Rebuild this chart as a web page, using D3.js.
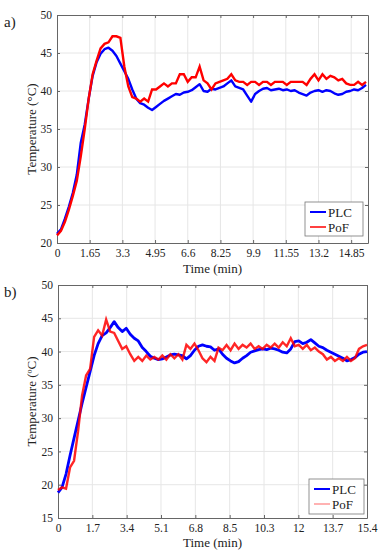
<!DOCTYPE html>
<html>
<head>
<meta charset="utf-8">
<script src="https://cdn.jsdelivr.net/npm/d3@7"></script>
<style>
  body { margin: 0; background: #fff; }
  svg, svg text, .ax { font-family: "Liberation Serif", "Times New Roman", serif; }
  .grid line { stroke: #e6e6e6; stroke-width: 1; }
  .ax path, .ax line { stroke: #666; }
  .ax text { fill: #222; font-size: 11.5px; }
</style>
</head>
<body>
<svg id="fig" width="382" height="550"></svg>
<script>
// ---- chart a) ----
var timeA = [0,0.2,0.4,0.6,0.8,1,1.2,1.4,1.6,1.8,2,2.2,2.4,2.6,2.8,3,3.2,3.4,3.6,3.8,
  4,4.2,4.4,4.6,4.8,5,5.2,5.4,5.6,5.8,6,6.2,6.4,6.6,6.8,7,7.2,7.4,7.6,7.8,
  8,8.2,8.4,8.6,8.8,9,9.2,9.4,9.6,9.8,10,10.2,10.4,10.6,10.8,11,11.2,11.4,11.6,11.8,
  12,12.2,12.4,12.6,12.8,13,13.2,13.4,13.6,13.8,14,14.2,14.4,14.6,14.8,15,15.2,15.4,15.6];
var plcA = [21.2,21.8,23.2,24.8,26.6,29.0,33.2,35.6,39.0,42.0,43.8,44.9,45.5,45.7,45.3,44.6,43.6,42.6,41.6,40.2,
  39.0,38.4,38.2,37.8,37.5,37.9,38.3,38.7,39.0,39.3,39.6,39.5,39.8,39.9,40.1,40.5,40.9,40.0,39.9,40.3,
  40.2,40.4,40.6,41.0,41.4,40.6,40.4,40.2,39.4,38.6,39.6,40.0,40.3,40.4,40.1,40.2,40.3,40.1,40.2,40.0,
  40.1,39.8,39.6,39.4,39.8,40.0,40.1,39.9,40.1,40.0,39.7,39.5,39.6,39.9,40.0,40.2,40.1,40.4,40.8];
var pofA = [21.0,21.6,22.8,24.4,26.2,28.2,31.4,35.0,39.0,42.2,44.0,45.6,46.2,46.4,47.2,47.2,47.0,43.2,40.6,39.2,
  39.0,38.6,39.0,38.6,40.2,40.2,40.6,41.0,40.6,41.0,41.0,42.2,42.2,41.2,41.8,41.8,43.2,41.4,41.0,40.2,
  41.0,41.2,41.4,41.6,42.2,41.4,41.2,41.2,40.8,41.2,41.2,40.8,41.2,41.2,40.8,41.2,41.2,41.2,40.8,41.2,
  41.2,41.2,41.2,40.8,41.6,42.2,41.4,42.2,41.6,42.0,41.8,41.4,41.6,41.0,40.8,40.8,41.2,40.8,41.2];
var ticksA = [0,1.65,3.3,4.95,6.6,8.25,9.9,11.55,13.2,14.85];
var tickLabelsA = ["0","1.65","3.3","4.95","6.6","8.25","9.9","11.55","13.2","14.85"];

// ---- chart b) ----
var timeB = [0,0.2,0.4,0.6,0.8,1,1.2,1.4,1.6,1.8,2,2.2,2.4,2.6,2.8,3,3.2,3.4,3.6,3.8,
  4,4.2,4.4,4.6,4.8,5,5.2,5.4,5.6,5.8,6,6.2,6.4,6.6,6.8,7,7.2,7.4,7.6,7.8,
  8,8.2,8.4,8.6,8.8,9,9.2,9.4,9.6,9.8,10,10.2,10.4,10.6,10.8,11,11.2,11.4,11.6,11.8,
  12,12.2,12.4,12.6,12.8,13,13.2,13.4,13.6,13.8,14,14.2,14.4,14.6,14.8,15,15.2,15.4];
var plcB = [18.8,19.6,21.6,24.4,27.0,29.6,32.2,34.6,37.0,39.4,41.2,42.4,42.8,43.6,44.5,43.6,43.0,43.5,42.6,42.0,
  41.6,40.6,40.0,39.3,39.0,38.8,38.9,39.2,39.5,39.6,39.5,39.4,38.9,39.4,40.2,40.8,41.0,40.8,40.7,40.2,
  40.4,39.6,39.0,38.6,38.3,38.5,39.0,39.4,39.9,40.1,40.3,40.4,40.3,40.5,40.4,40.2,39.9,39.8,40.4,41.5,
  41.6,41.2,41.4,41.8,41.3,40.8,40.6,40.2,39.9,39.6,39.3,39.0,38.6,38.8,39.1,39.6,39.9,40.0];
var pofB = [19.2,19.6,19.4,22.6,23.6,28.0,33.4,36.4,37.4,42.2,43.2,42.4,44.8,43.0,42.8,41.6,40.4,40.8,39.6,38.6,
  39.2,38.6,39.4,38.8,39.2,38.8,39.4,38.8,39.6,39.0,39.6,38.8,41.0,40.4,41.2,40.2,39.0,38.4,39.2,38.6,
  40.6,40.2,41.0,40.2,41.2,40.4,41.0,40.6,41.2,40.4,40.8,40.4,41.0,40.6,41.2,40.6,41.4,40.8,42.0,40.8,
  41.0,40.4,41.0,40.2,40.6,40.0,39.6,38.8,39.2,38.6,39.0,38.6,39.2,38.6,39.0,40.4,40.8,41.0];
var ticksB = [0,1.7111,3.4222,5.1333,6.8444,8.5556,10.2667,11.9778,13.6889,15.4];
var tickLabelsB = ["0","1.7","3.4","5.1","6.8","8.5","10.3","12","13.7","15.4"];

var seriesNames = ["PLC", "PoF"];

var svg = d3.select("#fig");

var drawPanel = function(cfg) {
    var x = d3.scaleLinear().domain(cfg.xDomain).range([cfg.left, cfg.right]);
    var y = d3.scaleLinear().domain(cfg.yDomain).range([cfg.bottom, cfg.top]);
    var g = svg.append("g");
    var yTicks = d3.range(cfg.yDomain[0], cfg.yDomain[1] + 0.1, 5);

    // grid
    var gridX = cfg.ticks.filter(function(d) { return d > 0 && d < cfg.xDomain[1] - 0.1; });
    var grid = g.append("g").attr("class", "grid");
    grid.selectAll(".gx").data(gridX)
        .enter().append("line")
        .attr("x1", function(d) { return x(d); }).attr("x2", function(d) { return x(d); })
        .attr("y1", cfg.top).attr("y2", cfg.bottom);
    grid.selectAll(".gy").data(yTicks.slice(1, -1))
        .enter().append("line")
        .attr("y1", function(d) { return y(d); }).attr("y2", function(d) { return y(d); })
        .attr("x1", cfg.left).attr("x2", cfg.right);

    // axes (ticks inward, mirrored on top / right)
    var fmtX = function(d, i) { return cfg.tickLabels[i]; };
    g.append("g").attr("class", "ax").attr("transform", "translate(0," + cfg.bottom + ")")
        .call(d3.axisBottom(x).tickValues(cfg.ticks).tickFormat(fmtX).tickSizeInner(-3).tickSizeOuter(0).tickPadding(6));
    g.append("g").attr("class", "ax").attr("transform", "translate(0," + cfg.top + ")")
        .call(d3.axisTop(x).tickValues(cfg.ticks).tickFormat("").tickSizeInner(-3).tickSizeOuter(0));
    g.append("g").attr("class", "ax").attr("transform", "translate(" + cfg.left + ",0)")
        .call(d3.axisLeft(y).tickValues(yTicks).tickFormat(d3.format("d")).tickSizeInner(-3).tickSizeOuter(0).tickPadding(5));
    g.append("g").attr("class", "ax").attr("transform", "translate(" + cfg.right + ",0)")
        .call(d3.axisRight(y).tickValues(yTicks).tickFormat("").tickSizeInner(-3).tickSizeOuter(0));
    g.selectAll(".ax .domain").attr("stroke", "#999");

    // lines
    var line = d3.line()
        .x(function(d) { return x(d[0]); })
        .y(function(d) { return y(d[1]); });
    g.append("path")
        .datum(d3.zip(cfg.time, cfg.plc))
        .attr("fill", "none").attr("stroke", "#0000ff")
        .attr("stroke-width", cfg.plcWidth).attr("stroke-linejoin", "round")
        .attr("d", line);
    g.append("path")
        .datum(d3.zip(cfg.time, cfg.pof))
        .attr("fill", "none").attr("stroke", "#ff0000")
        .attr("stroke-width", cfg.pofWidth).attr("stroke-opacity", cfg.pofOpacity)
        .attr("d", line);

    // legend
    var lg = g.append("g").attr("transform", "translate(" + cfg.legend[0] + "," + cfg.legend[1] + ")");
    lg.append("rect").attr("width", cfg.legend[2]).attr("height", cfg.legend[3])
        .attr("fill", "#fff").attr("stroke", "#777").attr("stroke-width", 0.8);
    var legColors = ["#0000ff", cfg.pofLegend];
    seriesNames.forEach(function(n, i) {
        var ly = 10 + i * 15;
        lg.append("line").attr("x1", 5).attr("x2", 21).attr("y1", ly).attr("y2", ly)
            .attr("stroke", legColors[i]).attr("stroke-width", i == 0 ? 2 : 1.5);
        lg.append("text").attr("x", 23).attr("y", ly + 4.5)
            .attr("font-size", 13).attr("fill", "#222").text(n);
    });

    // labels
    g.append("text").attr("x", (cfg.left + cfg.right) / 2).attr("y", cfg.xLabelY)
        .attr("text-anchor", "middle").attr("font-size", 13).attr("fill", "#222").text("Time (min)");
    g.append("text")
        .attr("transform", "translate(" + cfg.yLabelX + "," + (cfg.top + cfg.bottom) / 2 + ") rotate(-90)")
        .attr("text-anchor", "middle").attr("font-size", 13).attr("fill", "#222").text(cfg.yLabel);
    g.append("text").attr("x", 4).attr("y", cfg.top + 12)
        .attr("font-size", 15).attr("fill", "#222").text(cfg.tag);
};

drawPanel({
    tag: "a)", time: timeA, plc: plcA, pof: pofA,
    xDomain: [0, 15.7], yDomain: [20, 50], ticks: ticksA, tickLabels: tickLabelsA,
    left: 57, right: 368, top: 15, bottom: 243,
    xLabelY: 273, yLabelX: 36, yLabel: "Temperature (°C)",
    plcWidth: 2.4, pofWidth: 2.4, pofOpacity: 1, pofLegend: "#ff0000",
    legend: [305, 202, 58, 34]
});
drawPanel({
    tag: "b)", time: timeB, plc: plcB, pof: pofB,
    xDomain: [0, 15.4], yDomain: [15, 50], ticks: ticksB, tickLabels: tickLabelsB,
    left: 58, right: 367, top: 285, bottom: 518,
    xLabelY: 547, yLabelX: 36, yLabel: "Temperature (ºC)",
    plcWidth: 2.8, pofWidth: 2.4, pofOpacity: 0.85, pofLegend: "#ff9999",
    legend: [309, 479, 55, 35]
});
</script>
</body>
</html>
